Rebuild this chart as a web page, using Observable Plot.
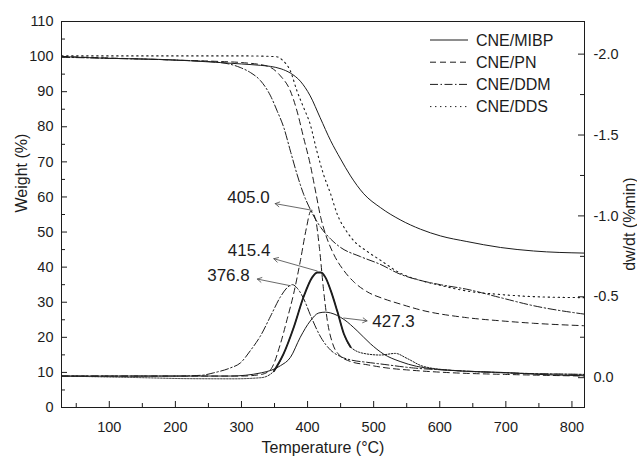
<!DOCTYPE html>
<html><head><meta charset="utf-8">
<script src="https://cdn.jsdelivr.net/npm/d3@7"></script>
<script src="https://cdn.jsdelivr.net/npm/@observablehq/plot@0.6"></script>
<style>body{margin:0;background:#fff} svg{display:block}</style>
</head><body><div id="chart"></div>
<script>
// Series names (legend order)
const seriesNames = ["CNE/MIBP", "CNE/PN", "CNE/DDM", "CNE/DDS"];

// TGA curves: [temperature °C, weight %]
const tgaMIBP = [[28,100],[100,99.5],[177,99.2],[268,98.3],[300,97.9],[329,97.5],[344,97.2],[360,96.5],[374,95.3],[389,93],[404,88.8],[419,82.6],[435,76],[450,70.8],[465,66],[485,60.9],[510,57],[540,53.5],[571,50.8],[601,48.9],[641,47.3],[692,45.6],[742,44.6],[819,44.0]];
const tgaPN = [[28,100],[100,99.6],[200,99],[268,98.6],[300,98.3],[339,97.3],[359,94.5],[374,90.2],[384,84.5],[394,76.9],[404,69.3],[412,61.7],[420,54.1],[427,49.5],[440,43.5],[455,39],[470,35.8],[490,33],[515,31],[540,29.5],[571,27.8],[641,25.6],[692,24.7],[742,24],[819,23.3]];
const tgaDDM = [[28,99.8],[100,99.5],[200,99],[268,98.3],[298,96.9],[314,95.4],[329,93.1],[344,88.8],[354,84.5],[364,79.8],[374,73.1],[384,66.5],[394,60.8],[404,56.5],[420,51.3],[435,48],[450,45.6],[480,43],[510,40.8],[540,38],[571,36.2],[601,35],[641,33.7],[692,31.3],[742,29],[819,26.6]];
const tgaDDS = [[28,100.2],[200,100.2],[300,100.2],[352,100],[362,99],[374,95.9],[384,90.2],[394,85.5],[404,80.7],[414,73.1],[424,66.5],[435,60.8],[445,55],[458,50.5],[470,47.5],[490,44.5],[510,42],[540,38.3],[571,36.2],[601,34.8],[641,33.2],[692,32.2],[742,31.6],[819,31.3]];

// DTG curves: [temperature °C, dw/dt (%/min)]
const dtgMIBP = [[28,-0.01],[100,-0.01],[200,-0.01],[283,-0.01],[330,-0.03],[359,-0.074],[374,-0.125],[389,-0.25],[404,-0.35],[417,-0.4],[427,-0.405],[435,-0.4],[455,-0.36],[475,-0.29],[495,-0.21],[515,-0.146],[540,-0.1],[565,-0.07],[591,-0.054],[640,-0.04],[692,-0.033],[750,-0.02],[819,-0.012]];
const dtgPN = [[28,-0.01],[200,-0.01],[300,-0.01],[330,-0.02],[344,-0.05],[359,-0.21],[369,-0.36],[379,-0.52],[389,-0.72],[398,-0.92],[405,-1.03],[412,-0.98],[418,-0.8],[424,-0.55],[430,-0.35],[438,-0.21],[448,-0.14],[465,-0.1],[490,-0.08],[520,-0.06],[560,-0.045],[620,-0.03],[700,-0.02],[819,-0.01]];
const dtgDDM = [[28,-0.01],[200,-0.01],[240,-0.015],[258,-0.03],[283,-0.06],[298,-0.09],[314,-0.17],[329,-0.26],[344,-0.38],[359,-0.5],[370,-0.56],[377,-0.575],[385,-0.55],[395,-0.48],[404,-0.39],[420,-0.25],[435,-0.17],[450,-0.13],[465,-0.11],[490,-0.095],[510,-0.085],[560,-0.06],[620,-0.045],[700,-0.03],[819,-0.02]];
const dtgDDS = [[28,-0.01],[150,0],[218,0.006],[288,0.007],[330,0.0],[349,-0.04],[364,-0.15],[379,-0.31],[394,-0.5],[407,-0.62],[415,-0.65],[420,-0.65],[427,-0.62],[435,-0.54],[445,-0.41],[455,-0.27],[465,-0.19],[485,-0.15],[510,-0.14],[533,-0.15],[550,-0.12],[575,-0.07],[620,-0.045],[700,-0.03],[819,-0.02]];

// Peak annotations: label, peak point (T, weight-scale), label end of arrow, label position
const peakLabels = ["405.0", "415.4", "376.8", "427.3"];
const peakFrom = [[407,56.2],[414.5,38.9],[374,34.7],[454.8,25.5]];
const peakTo = [[351,58.1],[349,42.4],[324,36.6],[490,24.7]];
const labelPos = [[310.6,59.7],[311.6,44.6],[280.3,37.5],[530,24.4]];

// Axis ticks
const xTicks = [100,200,300,400,500,600,700,800];
const xMinor = [50,150,250,350,450,550,650,750];
const yTicks = [0,10,20,30,40,50,60,70,80,90,100,110];
const yMinor = [5,15,25,35,45,55,65,75,85,95,105];
const rTicks = [-2.0,-1.5,-1.0,-0.5,0.0];
const rMinor = [-1.75,-1.25,-0.75,-0.25];

// right axis (dw/dt) expressed on the weight scale
const dtgToW = v => 8.5 - 46.1 * v;

const W = 637, H = 465, mL = 61, mR = 53, mT = 21, mB = 58;
const innerW = W - mL - mR, innerH = H - mT - mB;
const ink = "#1c1c1c";
const font = "Liberation Sans, Arial, Helvetica, sans-serif";

const styles = [
  {dash: null, width: 1},
  {dash: "6,4", width: 1},
  {dash: "8,2.5,1.5,2.5", width: 1},
  {dash: "1.4,3.6", width: 1.1}
];
const tga = [tgaMIBP, tgaPN, tgaDDM, tgaDDS];
const dtg = [dtgMIBP, dtgPN, dtgDDM];
const dtgStyles = [
  {dash: null, width: 1},
  {dash: "6,4", width: 1},
  {dash: "8,2.5,1.5,2.5", width: 1}
];

const marks = [];
tga.forEach((s, i) => marks.push(Plot.line(s, {x: d => d[0], y: d => d[1], curve: "monotone-x", stroke: ink, strokeWidth: styles[i].width, strokeDasharray: styles[i].dash})));
dtg.forEach((s, i) => marks.push(Plot.line(s, {x: d => d[0], y: d => dtgToW(d[1]), curve: "monotone-x", stroke: ink, strokeWidth: dtgStyles[i].width, strokeDasharray: dtgStyles[i].dash})));
// CNE/DDS DTG: noisy dotted trace, appearing heavy around the peak
marks.push(Plot.line(dtgDDS, {x: d => d[0], y: d => dtgToW(d[1]), curve: "monotone-x", stroke: ink, strokeWidth: 1, strokeDasharray: "1.5,1.5"}));
marks.push(Plot.line(dtgDDS.filter(d => d[0] >= 349 && d[0] <= 465), {x: d => d[0], y: d => dtgToW(d[1]), curve: "monotone-x", stroke: ink, strokeWidth: 1.9}));

const ann = peakLabels.map((l, i) => ({label: l, x1: peakFrom[i][0], y1: peakFrom[i][1], x2: peakTo[i][0], y2: peakTo[i][1], tx: labelPos[i][0], ty: labelPos[i][1]}));
marks.push(Plot.arrow(ann, {x1: "x1", y1: "y1", x2: "x2", y2: "y2", stroke: "#444", strokeWidth: 0.8, headLength: 9}));
marks.push(Plot.text(ann, {x: "tx", y: "ty", text: "label", fontSize: 17, fill: ink, textAnchor: "middle"}));

// ticks (inward)
marks.push(Plot.tickX(xTicks, {x: d => d, insetTop: innerH - 6, stroke: ink}));
marks.push(Plot.tickX(xMinor, {x: d => d, insetTop: innerH - 4, stroke: ink}));
marks.push(Plot.tickY(yTicks, {y: d => d, insetRight: innerW - 6, stroke: ink}));
marks.push(Plot.tickY(yMinor, {y: d => d, insetRight: innerW - 4, stroke: ink}));
marks.push(Plot.tickY(rTicks, {y: d => dtgToW(d), insetLeft: innerW - 6, stroke: ink}));
marks.push(Plot.tickY(rMinor, {y: d => dtgToW(d), insetLeft: innerW - 4, stroke: ink}));
marks.push(Plot.frame({stroke: ink, strokeWidth: 1}));

// axis labels
marks.push(Plot.axisX({ticks: xTicks, tickSize: 0, tickPadding: 14, label: null, fontSize: 14.5, fill: ink}));
marks.push(Plot.axisY({ticks: yTicks, tickSize: 0, tickPadding: 8, label: null, fontSize: 14.5, fill: ink}));
marks.push(Plot.text(rTicks, {y: d => dtgToW(d), frameAnchor: "right", dx: 9, textAnchor: "start", text: d => d.toFixed(1), fontSize: 14.5, fill: ink}));

// titles
marks.push(Plot.text(["Weight (%)"], {frameAnchor: "left", dx: -40, dy: -2, rotate: -90, fontSize: 16, fill: ink}));
marks.push(Plot.text(["dw/dt (%min)"], {frameAnchor: "right", dx: 45, dy: -37, rotate: -90, fontSize: 16, fill: ink}));
marks.push(Plot.text(["Temperature (°C)"], {frameAnchor: "bottom", dy: 45, fontSize: 16, fill: ink}));

const chart = Plot.plot({
  width: W, height: H,
  marginLeft: mL, marginRight: mR, marginTop: mT, marginBottom: mB,
  x: {domain: [27.7, 819], axis: null},
  y: {domain: [0, 110], axis: null},
  style: {fontFamily: font, fontSize: "14.5px", color: ink, background: "#fff"},
  marks
});

// legend inside the frame (top-right)
const svg = d3.select(chart);
const lg = svg.append("g").attr("text-anchor", "start");
seriesNames.forEach((name, i) => {
  const y = 40 + i * 22.2;
  lg.append("line").attr("x1", 430).attr("x2", 468).attr("y1", y).attr("y2", y)
    .attr("stroke", ink).attr("stroke-width", 1).attr("stroke-dasharray", styles[i].dash);
  lg.append("text").attr("x", 476).attr("y", y).attr("dy", "0.35em").attr("text-anchor", "start")
    .attr("font-size", 16).attr("font-family", font).attr("fill", ink).text(name);
});

document.getElementById("chart").appendChild(chart);
</script>
</body></html>
